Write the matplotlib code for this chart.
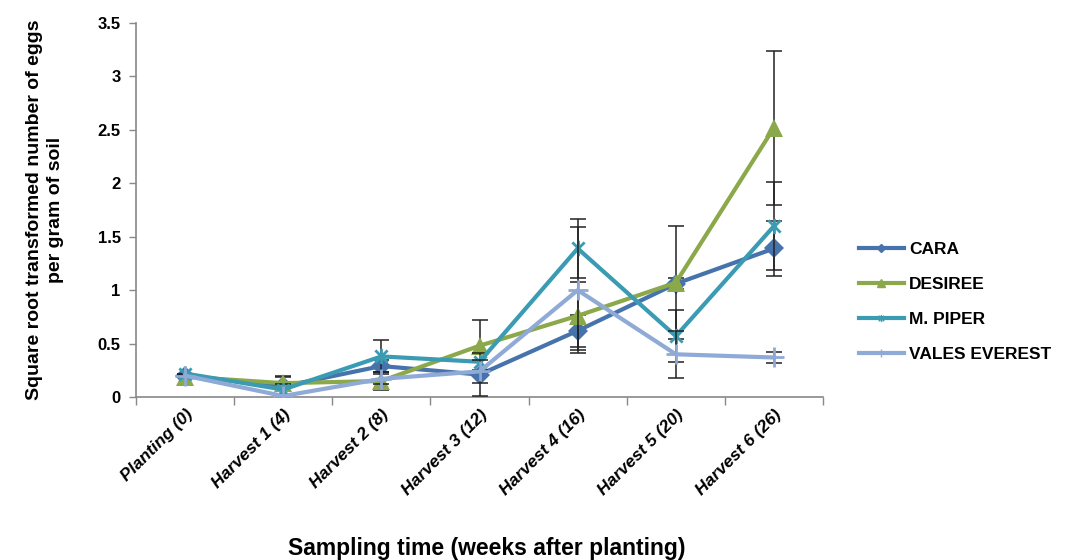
import matplotlib
matplotlib.use("Agg")
import matplotlib.pyplot as plt
from matplotlib.lines import Line2D
from matplotlib.path import Path
from matplotlib.ticker import FuncFormatter, FixedLocator

plt.rcParams['font.family'] = ['Liberation Sans', 'DejaVu Sans']

# Sampling times and square-root transformed egg counts per cultivar
categories = ["Planting (0)", "Harvest 1 (4)", "Harvest 2 (8)", "Harvest 3 (12)",
              "Harvest 4 (16)", "Harvest 5 (20)", "Harvest 6 (26)"]
series_names = ["CARA", "DESIREE", "M. PIPER", "VALES EVEREST"]

cara = [0.20, 0.10, 0.29, 0.21, 0.62, 1.06, 1.39]
desiree = [0.19, 0.13, 0.15, 0.48, 0.76, 1.07, 2.52]
m_piper = [0.22, 0.07, 0.38, 0.33, 1.39, 0.57, 1.60]
vales_everest = [0.20, 0.01, 0.17, 0.24, 1.00, 0.40, 0.37]

# Standard errors
cara_err = [0.0, 0.09, 0.06, 0.20, 0.15, 0.05, 0.26]
desiree_err = [0.0, 0.07, 0.08, 0.24, 0.32, 0.53, 0.72]
m_piper_err = [0.0, 0.05, 0.15, 0.08, 0.28, 0.24, 0.41]
vales_everest_err = [0.0, 0.02, 0.05, 0.11, 0.59, 0.22, 0.05]

y_ticks = [0, 0.5, 1, 1.5, 2, 2.5, 3, 3.5]

# Asterisk-style marker: an X with a vertical stroke
star_x = Path([(-1, -1), (1, 1), (-1, 1), (1, -1), (0, -1.25), (0, 1.25)],
              [Path.MOVETO, Path.LINETO, Path.MOVETO, Path.LINETO, Path.MOVETO, Path.LINETO])

styles = [
    dict(color="#4673AC", marker="D", ms=10, mew=0),
    dict(color="#8BA84A", marker="^", ms=13, mew=0),
    dict(color="#3A9BB3", marker=star_x, ms=11, mew=2.0),
    dict(color="#8FAAD6", marker="+", ms=14, mew=2.0),
]
values = [cara, desiree, m_piper, vales_everest]
errors = [cara_err, desiree_err, m_piper_err, vales_everest_err]

fig = plt.figure(figsize=(10.66, 5.60), dpi=100)
ax = fig.add_axes([0.1276, 0.291, 0.6445, 0.668])

x = list(range(len(categories)))
handles = []
for i, (name, vals, err, st) in enumerate(zip(series_names, values, errors, styles)):
    z = 3 + i
    ax.errorbar(x, vals, yerr=err, fmt="none", ecolor="#222222", elinewidth=1.1,
                capsize=6, capthick=1.1, zorder=z)
    ax.plot(x, vals, color=st["color"], lw=3.0, marker=st["marker"],
            markersize=st["ms"], markeredgewidth=st["mew"],
            markerfacecolor=st["color"], markeredgecolor=st["color"], zorder=z + 0.5)
    handles.append(Line2D([], [], color=st["color"], lw=3.0, marker=st["marker"],
                          markersize=st["ms"] * 0.45, markeredgewidth=1.0,
                          markerfacecolor=st["color"], markeredgecolor=st["color"],
                          label=name))

ax.set_xlim(-0.5, len(categories) - 0.5)
ax.set_ylim(0, 3.5)

# Category boundaries get the tick marks, labels sit at the category centres
ax.xaxis.set_major_locator(FixedLocator([i - 0.5 for i in range(len(categories) + 1)]))
ax.xaxis.set_major_formatter(FuncFormatter(lambda v, p: ""))
ax.xaxis.set_minor_locator(FixedLocator(x))
ax.set_xticklabels(categories, minor=True, rotation=45, ha="right", va="top",
                   rotation_mode="anchor", fontsize=12.5, fontweight="bold", fontstyle="italic")
ax.tick_params(axis="x", which="major", length=6, width=1, color="#888888", direction="out")
ax.tick_params(axis="x", which="minor", length=0, pad=7)

ax.set_yticks(y_ticks)
ax.yaxis.set_major_formatter(FuncFormatter(lambda v, p: f"{v:g}"))
ax.tick_params(axis="y", length=5, width=1, color="#888888", direction="out", pad=6)
for lab in ax.get_yticklabels():
    lab.set_fontsize(12)
    lab.set_fontweight("bold")

for side in ("top", "right"):
    ax.spines[side].set_visible(False)
for side in ("left", "bottom"):
    ax.spines[side].set_color("#888888")
    ax.spines[side].set_linewidth(1.2)

ax.set_ylabel("Square root transformed number of eggs\nper gram of soil",
              fontsize=14, fontweight="bold", labelpad=24, linespacing=1.35)
fig.text(0.457, 0.021, "Sampling time (weeks after planting)", ha="center", va="center",
         fontsize=16.5, fontweight="bold")

fig.legend(handles=handles, loc="upper left", bbox_to_anchor=(0.791, 0.596),
           frameon=False, handlelength=2.6, handletextpad=0.3,
           labelspacing=1.15, prop=dict(weight="bold", size=12.5))

fig.savefig("out.png", dpi=100)
